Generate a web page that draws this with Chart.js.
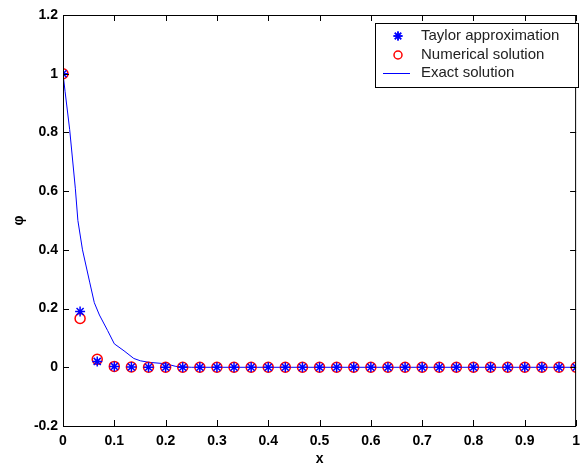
<!DOCTYPE html>
<html>
<head>
<meta charset="utf-8">
<script src="https://cdn.jsdelivr.net/npm/chart.js@4.4.0/dist/chart.umd.min.js"></script>
<style>
  html, body { margin: 0; padding: 0; background: #fff; }
  #wrap { width: 587px; height: 468px; }
</style>
</head>
<body>
<div id="wrap"><canvas id="phiChart"></canvas></div>
<script>
// grid points x = i/30 for the two marker series
const nodeX = [0, 0.0333, 0.0667, 0.1, 0.1333, 0.1667, 0.2, 0.2333, 0.2667, 0.3,
  0.3333, 0.3667, 0.4, 0.4333, 0.4667, 0.5, 0.5333, 0.5667, 0.6, 0.6333,
  0.6667, 0.7, 0.7333, 0.7667, 0.8, 0.8333, 0.8667, 0.9, 0.9333, 0.9667, 1];

// Taylor approximation (blue stars)
const taylorY = [1, 0.19, 0.02, 0.003, 0.001, 0, 0, 0, 0, 0,
  0, 0, 0, 0, 0, 0, 0, 0, 0, 0,
  0, 0, 0, 0, 0, 0, 0, 0, 0, 0, 0];

// Numerical solution (red circles)
const numericalY = [1, 0.166, 0.027, 0.003, 0.001, 0, 0, 0, 0, 0,
  0, 0, 0, 0, 0, 0, 0, 0, 0, 0,
  0, 0, 0, 0, 0, 0, 0, 0, 0, 0, 0];

// Exact solution (blue line)
const exactX = [0, 0.004, 0.013, 0.024, 0.029, 0.038, 0.052, 0.061, 0.071, 0.087,
  0.1, 0.119, 0.138, 0.151, 0.167, 0.2, 0.22, 0.25, 0.3, 0.4, 0.5, 0.6, 0.7, 0.8, 0.9, 1];
const exactY = [1, 0.94, 0.81, 0.61, 0.50, 0.40, 0.29, 0.22, 0.178, 0.125,
  0.08, 0.056, 0.03, 0.022, 0.017, 0.012, 0.003, 0, 0, 0, 0, 0, 0, 0, 0, 0];

const xTicks = [0, 0.1, 0.2, 0.3, 0.4, 0.5, 0.6, 0.7, 0.8, 0.9, 1];
const xTickLabels = ['0', '0.1', '0.2', '0.3', '0.4', '0.5', '0.6', '0.7', '0.8', '0.9', '1'];
const yTicks = [-0.2, 0, 0.2, 0.4, 0.6, 0.8, 1, 1.2];
const yTickLabels = ['-0.2', '0', '0.2', '0.4', '0.6', '0.8', '1', '1.2'];

const legendLabels = ['Taylor approximation', 'Numerical solution', 'Exact solution'];

const BLUE = '#0000ff';
const RED = '#ff0000';
const tickFont = { family: 'Liberation Sans', size: 14, weight: 'bold' };

function toPoints(xs, ys) {
  return xs.map((x, i) => ({ x: x, y: ys[i] }));
}

// box around the plot + inward ticks on all four sides
const boxPlugin = {
  id: 'matlabBox',
  afterDraw(chart) {
    const { ctx, chartArea: a, scales } = chart;
    const len = 6;
    ctx.save();
    ctx.strokeStyle = '#000';
    ctx.lineWidth = 1;
    ctx.strokeRect(a.left + 0.5, a.top + 0.5, a.right - a.left - 1, a.bottom - a.top);
    ctx.beginPath();
    xTicks.forEach(v => {
      const px = Math.round(scales.x.getPixelForValue(v)) + 0.5;
      ctx.moveTo(px, a.bottom); ctx.lineTo(px, a.bottom - len);
      ctx.moveTo(px, a.top); ctx.lineTo(px, a.top + len);
    });
    yTicks.forEach(v => {
      const py = Math.round(scales.y.getPixelForValue(v)) + 0.5;
      ctx.moveTo(a.left, py); ctx.lineTo(a.left + len, py);
      ctx.moveTo(a.right, py); ctx.lineTo(a.right - len, py);
    });
    ctx.stroke();

    // legend box
    const lx = 375, ly = 23, lw = 203, lh = 64;
    ctx.fillStyle = '#fff';
    ctx.fillRect(lx, ly, lw, lh);
    ctx.strokeRect(lx + 0.5, ly + 0.5, lw, lh);
    ctx.font = '15px "Liberation Sans"';
    ctx.fillStyle = '#222';
    ctx.textBaseline = 'middle';
    const rows = [36, 55, 73];
    legendLabels.forEach((t, i) => ctx.fillText(t, 421, rows[i]));
    // star
    ctx.strokeStyle = BLUE;
    ctx.lineWidth = 1.5;
    Chart.helpers.drawPoint(ctx, { pointStyle: 'star', radius: 4.5, rotation: 0, borderWidth: 1.5 }, 398, rows[0]);
    ctx.stroke();
    ctx.strokeStyle = RED;
    ctx.lineWidth = 1.5;
    ctx.beginPath();
    ctx.arc(398, rows[1], 4, 0, Math.PI * 2);
    ctx.stroke();
    ctx.strokeStyle = BLUE;
    ctx.lineWidth = 1;
    ctx.beginPath();
    ctx.moveTo(383, rows[2] + 0.5); ctx.lineTo(410, rows[2] + 0.5);
    ctx.stroke();
    ctx.restore();
  }
};

const ctx = document.getElementById('phiChart').getContext('2d');
new Chart(ctx, {
  type: 'scatter',
  data: {
    datasets: [
      {
        label: legendLabels[0],
        data: toPoints(nodeX, taylorY),
        pointStyle: 'star',
        pointRadius: 5,
        borderColor: BLUE,
        backgroundColor: BLUE,
        pointBorderWidth: 1.5
      },
      {
        label: legendLabels[1],
        data: toPoints(nodeX, numericalY),
        pointStyle: 'circle',
        pointRadius: 5,
        borderColor: RED,
        backgroundColor: 'rgba(0,0,0,0)',
        pointBorderWidth: 1.5
      },
      {
        label: legendLabels[2],
        type: 'line',
        data: toPoints(exactX, exactY),
        borderColor: BLUE,
        borderWidth: 1,
        pointRadius: 0,
        fill: false,
        tension: 0
      }
    ]
  },
  options: {
    responsive: true,
    maintainAspectRatio: false,
    animation: false,
    events: [],
    layout: { padding: { top: 15, right: 2, left: 0, bottom: 0 } },
    plugins: {
      legend: { display: false },
      tooltip: { enabled: false }
    },
    scales: {
      x: {
        type: 'linear',
        min: 0,
        max: 1,
        afterBuildTicks: s => { s.ticks = xTicks.map(v => ({ value: v })); },
        afterFit: s => { s.height = 42; },
        grid: { display: false, drawTicks: false },
        border: { display: false },
        ticks: {
          color: '#000',
          font: tickFont,
          padding: 7,
          maxRotation: 0,
          autoSkip: false,
          callback: (v, i) => xTickLabels[i]
        },
        title: {
          display: true,
          text: 'x',
          color: '#000',
          font: tickFont,
          padding: { top: 0, bottom: 0 }
        }
      },
      y: {
        type: 'linear',
        min: -0.2,
        max: 1.2,
        afterBuildTicks: s => { s.ticks = yTicks.map(v => ({ value: v })); },
        afterFit: s => { s.width = 63; },
        grid: { display: false, drawTicks: false },
        border: { display: false },
        ticks: {
          color: '#000',
          font: tickFont,
          padding: 5,
          autoSkip: false,
          callback: (v, i) => yTickLabels[i]
        },
        title: {
          display: true,
          text: 'φ',
          color: '#000',
          font: tickFont,
          padding: { top: 11, bottom: 0 }
        }
      }
    }
  },
  plugins: [boxPlugin]
});
</script>
</body>
</html>
